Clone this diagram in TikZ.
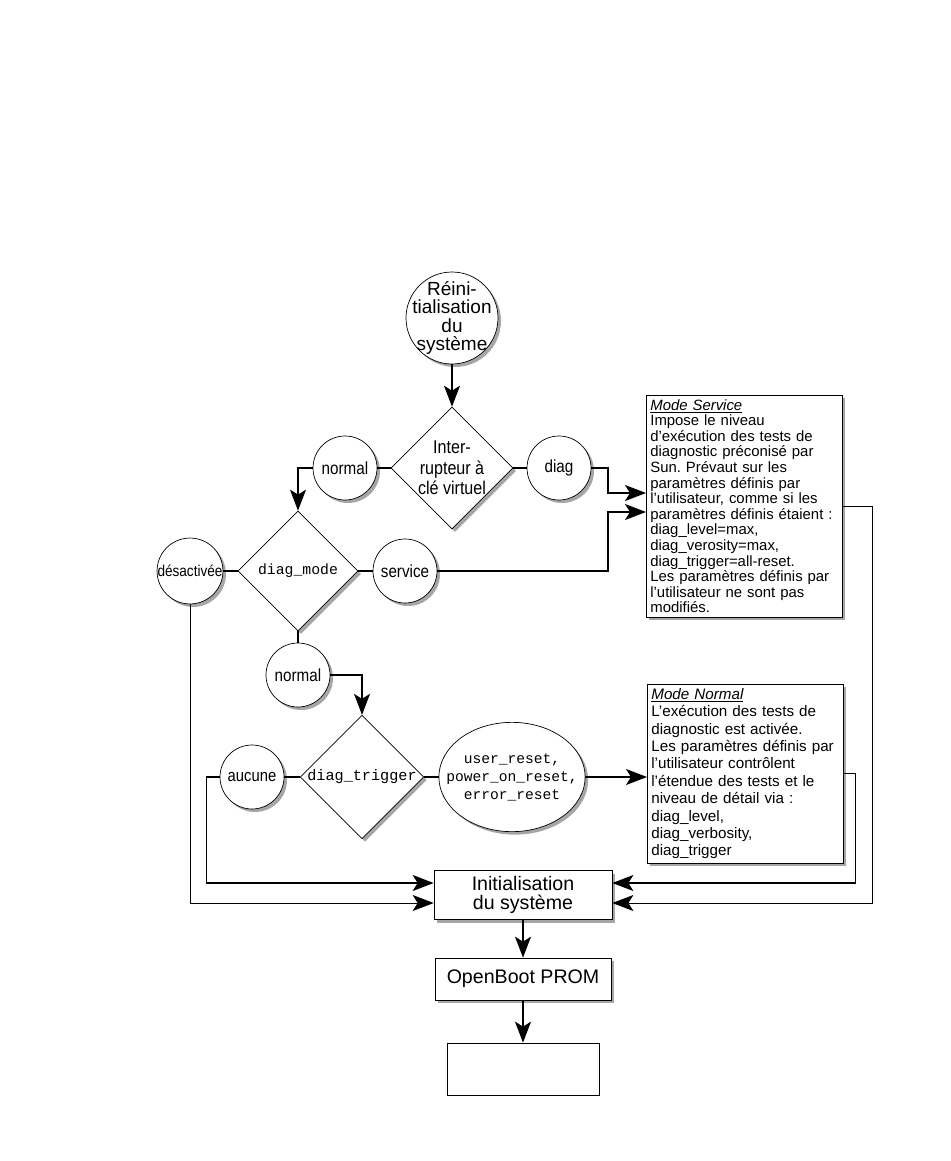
\documentclass[tikz,border=0pt]{standalone}
\usepackage{fontspec}
\setmainfont{Liberation Sans}
\setmonofont{Liberation Mono}
\newfontfamily\narrowsf[FakeStretch=0.87]{Liberation Sans}
\usetikzlibrary{shapes.geometric,arrows.meta,shadows}
\frenchspacing

\begin{document}
\begin{tikzpicture}[x=1pt,y=-1pt,line width=0.7pt,
    boxshadow/.style={fill=white,drop shadow={shadow xshift=3pt,shadow yshift=-3pt,fill=black!35,opacity=1}},
    choice/.style={circle,draw,boxshadow,minimum size=64pt,inner sep=0pt,font=\narrowsf\fontsize{17.5}{20}\selectfont},
    test/.style={diamond,draw,boxshadow,minimum size=120pt,inner sep=0pt,align=center},
    note/.style={rectangle,draw,boxshadow,anchor=north west,align=left,inner xsep=4pt,inner ysep=4pt,text width=188pt},
    stage/.style={rectangle,draw,boxshadow,align=center,font=\fontsize{19.6}{18.5}\selectfont},
    link/.style={line width=1.4pt},
    flow/.style={line width=1.4pt,-{Stealth[length=21pt,width=16pt,inset=5pt]}},
    thinflow/.style={line width=0.9pt,-{Stealth[length=21pt,width=16pt,inset=5pt]}}]
    \useasboundingbox (0,0) rectangle (950,1161);
    % Start and key switch
    \node[circle,draw,boxshadow,minimum size=92pt,inner sep=-9pt,align=center,font=\fontsize{19}{18.5}\selectfont] (reset) at (452,318) {Réini-\\tialisation\\du\\système};
    \node[test,font=\narrowsf\fontsize{18.5}{20.5}\selectfont] (key) at (452,468) {Inter-\\rupteur à\\clé virtuel};
    \node[choice] (keynormal) at (345,468) {normal};
    \node[choice] (keydiag) at (559,468) {diag};
    % diag_mode
    \node[test,font=\ttfamily\fontsize{14.8}{18}\selectfont] (mode) at (298,571) {diag\_mode};
    \node[choice,font=\narrowsf\fontsize{15.6}{18}\selectfont] (off) at (190,571) {désactivée};
    \node[choice] (service) at (405,571) {service};
    \node[choice] (modenormal) at (298,675) {normal};
    % diag_trigger
    \node[test,font=\ttfamily\fontsize{15.2}{18}\selectfont] (trigger) at (362,777) {diag\_trigger};
    \node[choice,font=\narrowsf\fontsize{17}{20}\selectfont] (none) at (252,777) {aucune};
    \node[ellipse,draw,boxshadow,inner xsep=-14pt,inner ysep=15pt,align=center,font=\ttfamily\fontsize{14.6}{18}\selectfont] (resets) at (512,777) {user\_reset,\\power\_on\_reset,\\error\_reset};
    % Notes
    \node[note,font=\fontsize{14.9}{15.6}\selectfont] (servicebox) at (646,395) {\textit{\underline{Mode Service}}\\
        Impose le niveau\\d’exécution des tests de\\diagnostic préconisé par\\Sun. Prévaut sur les\\
        paramètres définis par\\l’utilisateur, comme si les\\paramètres définis étaient :\\
        diag\_level=max,\\diag\_verosity=max,\\diag\_trigger=all-reset.\\
        Les paramètres définis par\\l’utilisateur ne sont pas\\modifiés.};
    \node[note,font=\fontsize{15.2}{17.4}\selectfont] (normalbox) at (647,684) {\textit{\underline{Mode Normal}}\\
        L’exécution des tests de\\diagnostic est activée.\\Les paramètres définis par\\
        l’utilisateur contrôlent\\l’étendue des tests et le\\niveau de détail via :\\
        diag\_level,\\diag\_verbosity,\\diag\_trigger};
    % Boot stages
    \node[stage,minimum width=178pt,minimum height=49pt] (init) at (523,895) {Initialisation\\du système};
    \node[stage,minimum width=176pt,minimum height=42pt] (obp) at (523,979) {OpenBoot PROM};
    \node[draw,fill=white,minimum width=152pt,minimum height=52pt] (last) at (523,1069) {};
    % Arrow ends
    \coordinate (svcin1) at (646,493);
    \coordinate (svcin2) at (646,512);
    \coordinate (initl1) at ([yshift=12pt]init.west);
    \coordinate (initl2) at ([yshift=-8pt]init.west);
    \coordinate (initr1) at ([yshift=12pt]init.east);
    \coordinate (initr2) at ([yshift=-8pt]init.east);
    % Connectors
    \draw[flow] (reset) -- (key);
    \draw[link] (key) -- (keynormal);
    \draw[link] (key) -- (keydiag);
    \draw[flow] (keynormal.west) -| (mode.north);
    \draw[flow] (keydiag.east) -| ([xshift=-38pt]svcin1) -- (svcin1);
    \draw[link] (mode) -- (off);
    \draw[link] (mode) -- (service);
    \draw[link] (mode) -- (modenormal);
    \draw[flow] (service.east) -| ([xshift=-38pt]svcin2) -- (svcin2);
    \draw[flow] (modenormal.east) -| (trigger.north);
    \draw[link] (trigger) -- (none);
    \draw[link] (trigger) -- (resets);
    \draw[flow] (resets.east) -- (resets.east -| normalbox.west);
    \draw[flow] (none.west) -| ([xshift=-227pt]initl1) -- (initl1);
    \draw[thinflow] (off.south) |- (initl2);
    \draw[flow] (normalbox.east) -| ([xshift=243pt]initr1) -- (initr1);
    \draw[thinflow] (servicebox.east) -| ([xshift=260pt]initr2) -- (initr2);
    \draw[flow] (init) -- (obp);
    \draw[flow] (obp) -- (last);
\end{tikzpicture}
\end{document}
